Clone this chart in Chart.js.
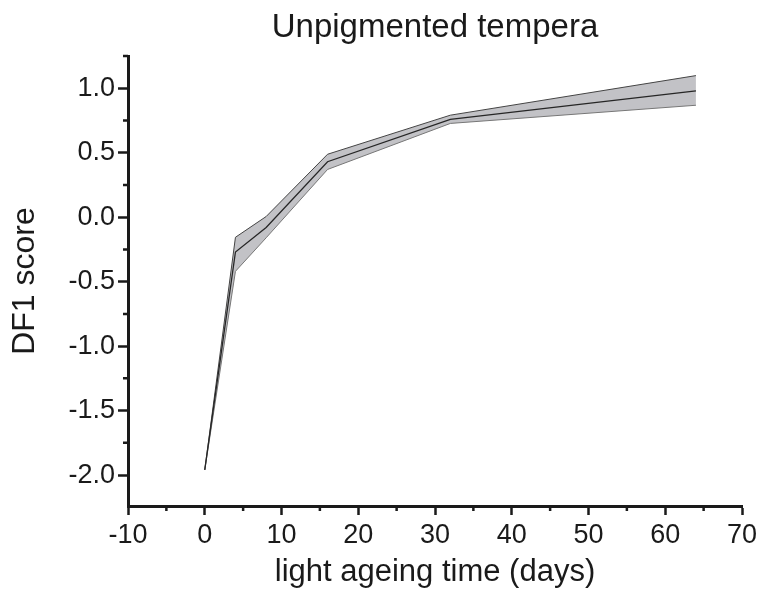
<!DOCTYPE html>
<html>
<head>
<meta charset="utf-8">
<script src="https://cdn.jsdelivr.net/npm/chart.js@4"></script>
<style>
  body { margin: 0; background: #fff; }
  #wrap { width: 762px; height: 590px; }
</style>
</head>
<body>
<div id="wrap"><canvas id="chart" width="762" height="590"></canvas></div>
<script>
const days = [0, 4, 8, 16, 32, 64];
const meanScore = [-1.96, -0.27, -0.08, 0.43, 0.758, 0.979];
const upperScore = [-1.96, -0.156, 0.005, 0.488, 0.791, 1.098];
const lowerScore = [-1.96, -0.42, -0.16, 0.37, 0.727, 0.868];

const xMinorTicks = [-5, 5, 15, 25, 35, 45, 55, 65];
const yMinorTicks = [1.25, 0.75, 0.25, -0.25, -0.75, -1.25, -1.75];

const fontFamily = "'Liberation Sans', Arial, sans-serif";
const ink = "#1a1a1a";

function pts(ys) {
  return days.map((d, i) => ({ x: d, y: ys[i] }));
}

// minor tick marks (Chart.js has no minor ticks)
const minorTicks = {
  id: "minorTicks",
  afterDraw(chart) {
    const ctx = chart.ctx;
    const xs = chart.scales.x, ys = chart.scales.y;
    ctx.save();
    ctx.strokeStyle = ink;
    ctx.lineWidth = 2.5;
    ctx.beginPath();
    xMinorTicks.forEach(v => {
      const px = xs.getPixelForValue(v);
      ctx.moveTo(px, chart.chartArea.bottom);
      ctx.lineTo(px, chart.chartArea.bottom + 5);
    });
    yMinorTicks.forEach(v => {
      const py = ys.getPixelForValue(v);
      ctx.moveTo(chart.chartArea.left, py);
      ctx.lineTo(chart.chartArea.left - 5, py);
    });
    ctx.stroke();
    ctx.restore();
  }
};

// dataset 0 is drawn last, so the mean line goes first to sit on top of the band
new Chart(document.getElementById("chart"), {
  type: "line",
  data: {
    datasets: [
      {
        label: "mean",
        data: pts(meanScore),
        borderColor: "#262626",
        borderWidth: 1.3,
        pointRadius: 0,
        fill: false
      },
      {
        label: "lower",
        data: pts(lowerScore),
        borderColor: "#777777",
        borderWidth: 1,
        pointRadius: 0,
        fill: false
      },
      {
        label: "upper",
        data: pts(upperScore),
        borderColor: "#444444",
        borderWidth: 1,
        pointRadius: 0,
        backgroundColor: "#c2c2c6",
        fill: "-1"
      }
    ]
  },
  options: {
    responsive: false,
    animation: false,
    layout: { padding: { left: 0, right: 20, top: 0, bottom: 0 } },
    plugins: {
      legend: { display: false },
      tooltip: { enabled: false },
      title: {
        display: true,
        fullSize: false,
        text: "Unpigmented tempera",
        color: ink,
        font: { family: fontFamily, size: 33, weight: "normal", lineHeight: 1.2 },
        padding: { top: 8, bottom: 8.4 }
      }
    },
    scales: {
      x: {
        type: "linear",
        min: -10,
        max: 70,
        border: { display: true, color: ink, width: 3 },
        grid: { drawOnChartArea: false, drawTicks: true, tickLength: 9, tickWidth: 2.5, tickColor: ink },
        ticks: {
          stepSize: 10,
          color: ink,
          padding: 4,
          maxRotation: 0,
          font: { family: fontFamily, size: 27 }
        },
        title: {
          display: true,
          text: "light ageing time (days)",
          color: ink,
          font: { family: fontFamily, size: 31, lineHeight: 1 },
          padding: { top: 0, bottom: 2 }
        },
        afterFit: s => { s.height = 84; }
      },
      y: {
        type: "linear",
        min: -2.24,
        max: 1.25,
        border: { display: true, color: ink, width: 3 },
        grid: { drawOnChartArea: false, drawTicks: true, tickLength: 10, tickWidth: 2.5, tickColor: ink },
        ticks: {
          stepSize: 0.5,
          includeBounds: false,
          color: ink,
          padding: 3,
          font: { family: fontFamily, size: 27 },
          callback: v => v.toFixed(1)
        },
        title: {
          display: true,
          text: "DF1 score",
          color: ink,
          font: { family: fontFamily, size: 32, lineHeight: 1.2 },
          padding: { top: 6, bottom: 0 }
        },
        afterFit: s => { s.width = 128; }
      }
    }
  },
  plugins: [minorTicks]
});
</script>
</body>
</html>
